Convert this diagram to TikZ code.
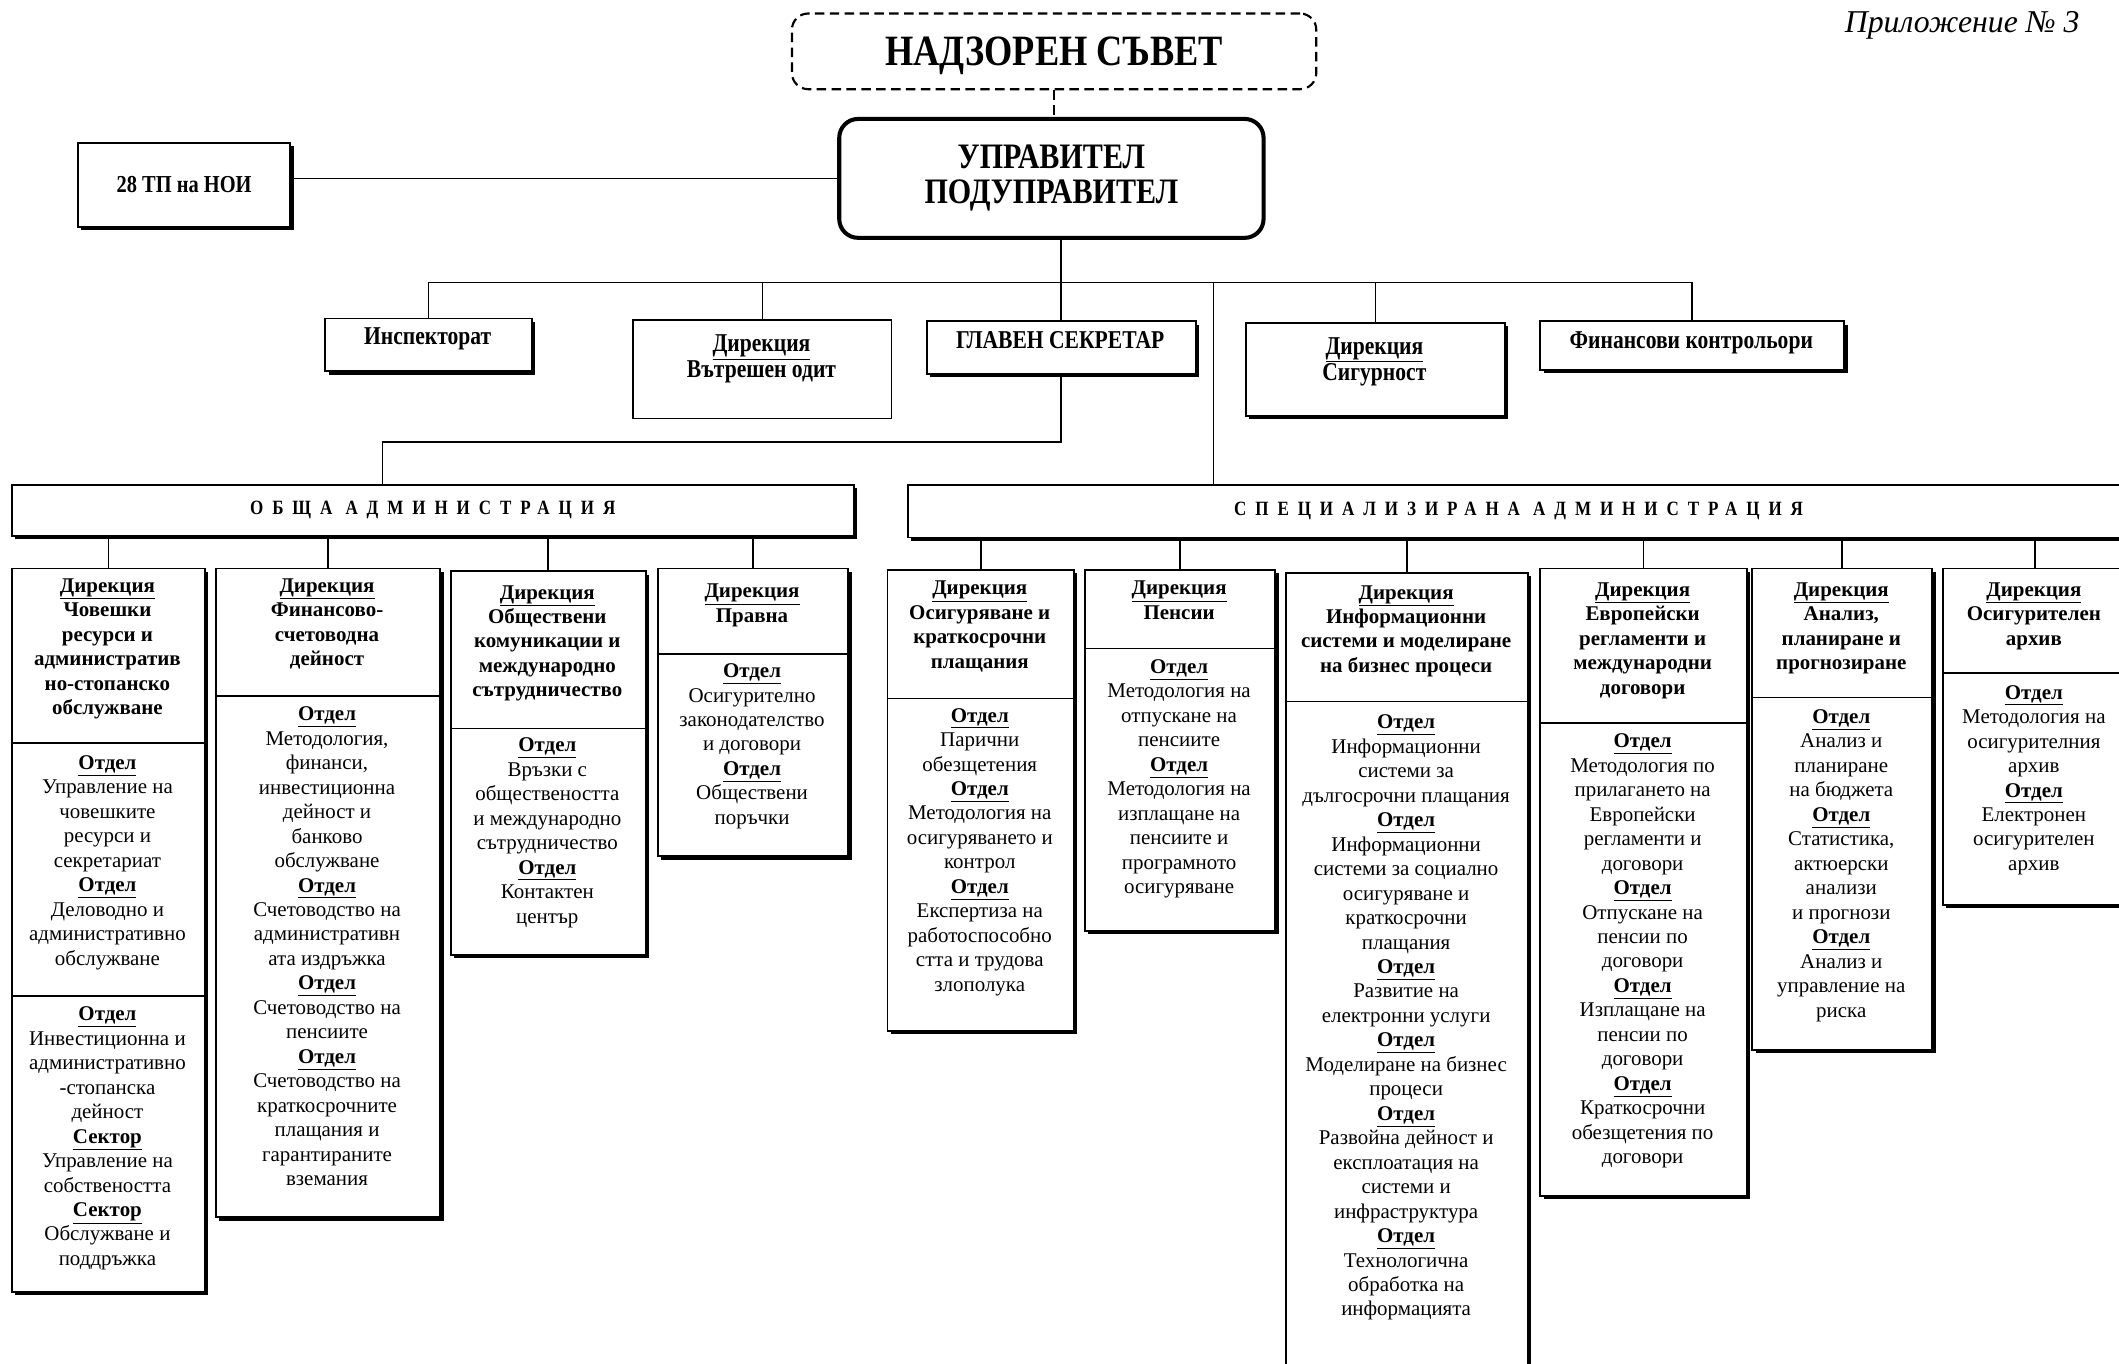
\documentclass[tikz,border=0pt]{standalone}
\usepackage{fontspec}
\setmainfont{Liberation Serif}
\newfontfamily\condfont[FakeStretch=0.84]{Liberation Serif}
\newfontfamily\barfont[FakeStretch=0.84,LetterSpace=44]{Liberation Serif}
\usetikzlibrary{shadows}
\newcommand\Dir{\underline{Дирекция}}
\newcommand\Otdel{\underline{\textbf{Отдел}}}
\newcommand\Sektor{\underline{\textbf{Сектор}}}

\begin{document}
\begin{tikzpicture}[x=1pt,y=-1pt,line width=1.2pt]
    \tikzstyle{box}=[draw, line width=1.4pt, fill=white, anchor=north west, inner sep=0, general shadow={fill=black, shadow xshift=2.5pt, shadow yshift=-2.5pt}]
    \tikzstyle{flat}=[draw, line width=1.4pt, fill=white, anchor=north west, inner sep=0]
    \tikzstyle{txt}=[anchor=north, align=center, inner sep=0, font=\fontsize{15.5}{18.1}\selectfont, execute at begin node=\strut]
    \tikzstyle{hdr}=[style=txt, font=\fontsize{15.5}{18.1}\selectfont\bfseries]
    \tikzstyle{top}=[anchor=north, align=center, inner sep=0, font=\condfont\bfseries\fontsize{19}{17.5}\selectfont, execute at begin node=\strut]
    \tikzstyle{bar}=[style=box, font=\barfont\bfseries\fontsize{15}{17}\selectfont]

    \clip (0,0) rectangle (1568,1009);

    % management
    \node[font=\itshape\fontsize{23.5}{25}\selectfont, inner sep=0] (annex) at (1452,19) {Приложение № 3};
    \node[draw, dash pattern=on 7pt off 4pt, line width=1.6pt, rounded corners=12pt, minimum width=388, minimum height=56, inner sep=0] (nadzoren) at (780,38) {};
    \node[font=\condfont\bfseries\fontsize{32}{32}\selectfont, inner sep=0] (nadzoren-t) at (780,41) {НАДЗОРЕН СЪВЕТ};
    \node[draw, line width=3pt, rounded corners=14pt, minimum width=314, minimum height=88, align=center,
          font=\condfont\bfseries\fontsize{26.5}{26}\selectfont] (upravitel) at (778,132) {УПРАВИТЕЛ\\ПОДУПРАВИТЕЛ};
    \node[box, minimum width=157, minimum height=62, font=\condfont\bfseries\fontsize{18}{18}\selectfont] (tp28) at (57,105) {28 ТП на НОИ};

    \node[box, minimum width=153, minimum height=39] (inspektorat) at (240,235) {};
    \node[top] (inspektorat-t) at (316.5,242) {Инспекторат};
    \node[flat, minimum width=191, minimum height=73] (vatreshen) at (468,236) {};
    \node[top] (vatreshen-t) at (563.5,247) {\Dir\\Вътрешен одит};
    \node[box, minimum width=199, minimum height=39] (glaven) at (685,237) {};
    \node[top] (glaven-t) at (784.5,245) {ГЛАВЕН СЕКРЕТАР};
    \node[box, minimum width=192, minimum height=69] (sigurnost) at (921,238) {};
    \node[top] (sigurnost-t) at (1017,249) {\Dir\\Сигурност};
    \node[box, minimum width=225, minimum height=36] (fincontrol) at (1139,237) {};
    \node[top] (fincontrol-t) at (1251.5,245) {Финансови контрольори};

    \node[bar, minimum width=623, minimum height=38] (obshta) at (8,358) {ОБЩА АДМИНИСТРАЦИЯ};
    \node[bar, minimum width=904, minimum height=39] (spec) at (671,358) {СПЕЦИАЛИЗИРАНА АДМИНИСТРАЦИЯ};

    \coordinate (bus) at (782,209);
    \coordinate (specdrop) at (898,209);
    \coordinate (gsbend) at (283,327);
    \path
     (nadzoren.south) edge[dash pattern=on 7pt off 4pt] (nadzoren.south |- upravitel.north)
     (tp28.east |- upravitel.west) edge (upravitel.west)
     (glaven.north |- upravitel.south) edge (glaven.north)
     ;
    \draw (inspektorat.north) |- (fincontrol.north |- bus) -- (fincontrol.north);
    \draw (vatreshen.north) -- (vatreshen.north |- bus);
    \draw (sigurnost.north) -- (sigurnost.north |- bus);
    \draw (specdrop) -- (specdrop |- spec.north);
    \draw (glaven.south) |- (gsbend) -- (gsbend |- obshta.north);

    % general administration
    \node[box, minimum width=143, minimum height=535] (hr) at (8,420) {};
    \draw (hr.north west) ++(0,130) -- ++(143,0);
    \draw (hr.north west) ++(0,317) -- ++(143,0);
    \node[hdr] (hr-h) at (79.5,427.5) {\Dir\\Човешки\\ресурси и\\административ\\но-стопанско\\обслужване};
    \node[txt] (hr-a) at (79.5,558.5) {\Otdel\\Управление на\\човешките\\ресурси и\\секретариат\\\Otdel\\Деловодно и\\административно\\обслужване};
    \node[txt] (hr-b) at (79.5,744.5) {\Otdel\\Инвестиционна и\\административно\\-стопанска\\дейност\\\Sektor\\Управление на\\собствеността\\\Sektor\\Обслужване и\\поддръжка};

    \node[box, minimum width=166, minimum height=480] (fin) at (159,420) {};
    \draw (fin.north west) ++(0,95) -- ++(166,0);
    \node[hdr] (fin-h) at (242,427.5) {\Dir\\Финансово-\\счетоводна\\дейност};
    \node[txt] (fin-a) at (242,522.5) {\Otdel\\Методология,\\финанси,\\инвестиционна\\дейност и\\банково\\обслужване\\\Otdel\\Счетоводство на\\административн\\ата издръжка\\\Otdel\\Счетоводство на\\пенсиите\\\Otdel\\Счетоводство на\\краткосрочните\\плащания и\\гарантираните\\вземания};

    \node[box, minimum width=144, minimum height=284] (pr) at (333,422) {};
    \draw (pr.north west) ++(0,117) -- ++(144,0);
    \node[hdr] (pr-h) at (405,432.5) {\Dir\\Обществени\\комуникации и\\международно\\сътрудничество};
    \node[txt] (pr-a) at (405,545.5) {\Otdel\\Връзки с\\обществеността\\и международно\\сътрудничество\\\Otdel\\Контактен\\център};

    \node[box, minimum width=141, minimum height=213] (pravna) at (486,420) {};
    \draw (pravna.north west) ++(0,64) -- ++(141,0);
    \node[hdr] (pravna-h) at (556.5,431.5) {\Dir\\Правна};
    \node[txt] (pravna-a) at (556.5,490.5) {\Otdel\\Осигурително\\законодателство\\и договори\\\Otdel\\Обществени\\поръчки};

    % specialised administration
    \node[box, minimum width=138, minimum height=341] (osig) at (656,421) {};
    \draw (osig.north west) ++(0,96) -- ++(138,0);
    \node[hdr] (osig-h) at (725,429.5) {\Dir\\Осигуряване и\\краткосрочни\\плащания};
    \node[txt] (osig-a) at (725,523.5) {\Otdel\\Парични\\обезщетения\\\Otdel\\Методология на\\осигуряването и\\контрол\\\Otdel\\Експертиза на\\работоспособно\\стта и трудова\\злополука};

    \node[box, minimum width=141, minimum height=267] (pensii) at (802,421) {};
    \draw (pensii.north west) ++(0,59) -- ++(141,0);
    \node[hdr] (pensii-h) at (872.5,429.5) {\Dir\\Пенсии};
    \node[txt] (pensii-a) at (872.5,487.5) {\Otdel\\Методология на\\отпускане на\\пенсиите\\\Otdel\\Методология на\\изплащане на\\пенсиите и\\програмното\\осигуряване};

    \node[box, minimum width=179, minimum height=620] (info) at (951,423) {};
    \draw (info.north west) ++(0,96) -- ++(179,0);
    \node[hdr] (info-h) at (1040.5,432.5) {\Dir\\Информационни\\системи и моделиране\\на бизнес процеси};
    \node[txt] (info-a) at (1040.5,528.5) {\Otdel\\Информационни\\системи за\\дългосрочни плащания\\\Otdel\\Информационни\\системи за социално\\осигуряване и\\краткосрочни\\плащания\\\Otdel\\Развитие на\\електронни услуги\\\Otdel\\Моделиране на бизнес\\процеси\\\Otdel\\Развойна дейност и\\експлоатация на\\системи и\\инфраструктура\\\Otdel\\Технологична\\обработка на\\информацията};

    \node[box, minimum width=153, minimum height=464] (evro) at (1139,420) {};
    \draw (evro.north west) ++(0,115) -- ++(153,0);
    \node[hdr] (evro-h) at (1215.5,430.5) {\Dir\\Европейски\\регламенти и\\международни\\договори};
    \node[txt] (evro-a) at (1215.5,542.5) {\Otdel\\Методология по\\прилагането на\\Европейски\\регламенти и\\договори\\\Otdel\\Отпускане на\\пенсии по\\договори\\\Otdel\\Изплащане на\\пенсии по\\договори\\\Otdel\\Краткосрочни\\обезщетения по\\договори};

    \node[box, minimum width=133, minimum height=356] (analiz) at (1296,420) {};
    \draw (analiz.north west) ++(0,96) -- ++(133,0);
    \node[hdr] (analiz-h) at (1362.5,430.5) {\Dir\\Анализ,\\планиране и\\прогнозиране};
    \node[txt] (analiz-a) at (1362.5,524.5) {\Otdel\\Анализ и\\планиране\\на бюджета\\\Otdel\\Статистика,\\актюерски\\анализи\\и прогнози\\\Otdel\\Анализ и\\управление на\\риска};

    \node[box, minimum width=136, minimum height=249] (arhiv) at (1437,420) {};
    \draw (arhiv.north west) ++(0,78) -- ++(136,0);
    \node[hdr] (arhiv-h) at (1505,430.5) {\Dir\\Осигурителен\\архив};
    \node[txt] (arhiv-a) at (1505,506.5) {\Otdel\\Методология на\\осигурителния\\архив\\\Otdel\\Електронен\\осигурителен\\архив};

    \foreach \b in {hr,fin,pr,pravna}
      \draw (\b.north) -- (\b.north |- obshta.south);
    \foreach \b in {osig,pensii,info,evro,analiz,arhiv}
      \draw (\b.north) -- (\b.north |- spec.south);
\end{tikzpicture}
\end{document}
